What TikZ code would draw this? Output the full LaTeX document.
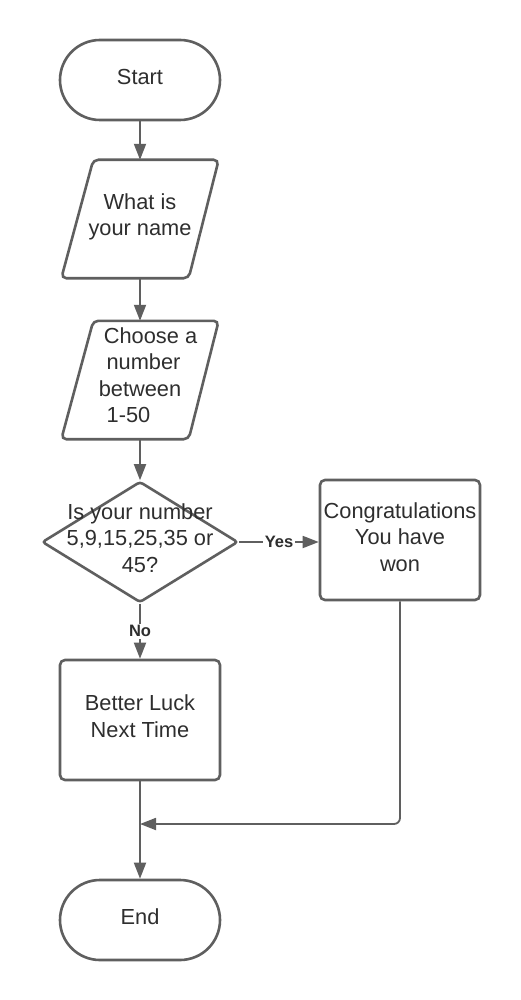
\documentclass[tikz,border=0pt]{standalone}
\usepackage{fontspec}
\setmainfont{Liberation Sans}
\usetikzlibrary{shapes.geometric,arrows.meta,calc}
\definecolor{ln}{HTML}{5F5F5F}
\definecolor{tx}{HTML}{2E2E2E}
\begin{document}
\begin{tikzpicture}[x=1pt,y=-1pt,
  font=\fontsize{21.8}{26.5}\selectfont, text=tx,
  shp/.style={draw=ln, line width=2.6pt, rounded corners=5pt},
  term/.style={draw=ln, line width=2.6pt, rectangle, rounded corners=40pt,
    minimum width=160pt, minimum height=80pt, inner sep=0pt, text depth=6pt},
  box/.style={shp, rectangle, minimum width=160pt, minimum height=120pt,
    inner sep=0pt, align=center},
  pbox/.style={rectangle, minimum width=157pt, minimum height=118pt,
    inner sep=0pt, align=center},
  conn/.style={draw=ln, line width=1.8pt, -{Triangle[length=16pt,width=12pt]}},
  lbl/.style={font=\bfseries\fontsize{16.5}{18}\selectfont, fill=white,
    inner sep=2pt, text=tx}]
\path[use as bounding box, fill=white] (0,0) rectangle (520,1000);

\node[term] (s) at (140,80) {Start};

\node[pbox, text depth=8.6pt] (p1) at (140,219) {What is\\your name};
\draw[shp] ($(p1.north west)+(32,0)$) -- (p1.north east)
  -- ($(p1.south east)+(-30,0)$) -- (p1.south west) -- cycle;

\node[pbox, text depth=10pt] (p2) at (140,380) {\hspace*{21pt}Choose a\\\hspace*{7pt}number\\between\hspace*{6pt}\\1-50\hspace*{23pt}};
\draw[shp] ($(p2.north west)+(32,0)$) -- (p2.north east)
  -- ($(p2.south east)+(-30,0)$) -- (p2.south west) -- cycle;

\node[draw=ln, line width=2.6pt, diamond, minimum width=196pt,
  minimum height=121pt, inner sep=0pt, rounded corners=3pt,
  label={[align=center, text depth=8pt]center:Is your number\\5,9,15,25,35 or\\45?}] (d) at (140,542) {};

\node[box, text depth=6pt] (c) at (400,540) {Congratulations\\You have\\won};
\node[box, text depth=8pt] (b) at (140,720) {Better Luck\\Next Time};
\node[term] (e) at (140,920) {End};
\coordinate (m) at (140,824);

\draw[conn] (s.south) -- (p1.north);
\draw[conn] (p1.south) -- (p2.north);
\draw[conn] (p2.south) -- (d.north);
\draw[conn] (d.east) -- node[lbl]{Yes} (d.east -| c.west);
\draw[conn] (d.south) -- node[lbl]{No} (b.north);
\draw[conn] (b.south) -- (e.north);
\draw[conn, rounded corners=6pt] (c.south) |- (m);
\end{tikzpicture}
\end{document}
